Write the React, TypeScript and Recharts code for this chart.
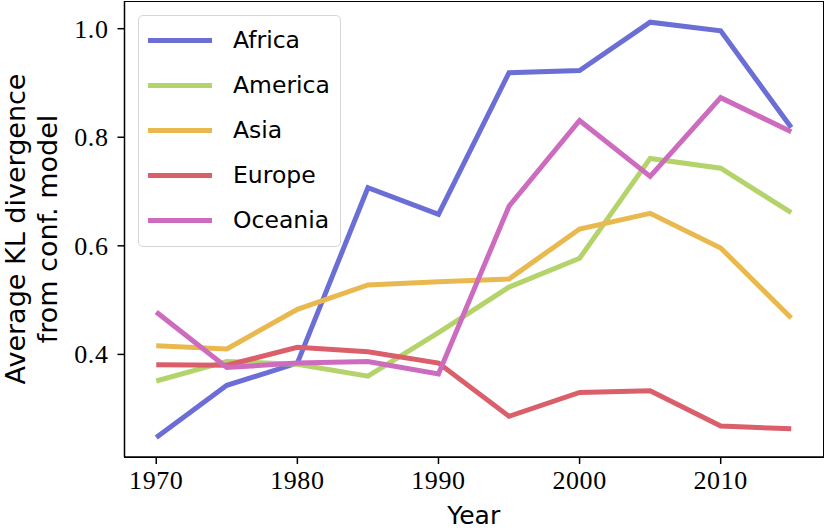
import { LineChart, Line, XAxis, YAxis } from 'recharts'

const years = [1970, 1975, 1980, 1985, 1990, 1995, 2000, 2005, 2010, 2015]
const africa = [0.247, 0.343, 0.384, 0.707, 0.658, 0.919, 0.923, 1.012, 0.996, 0.818]
const america = [0.351, 0.387, 0.382, 0.36, 0.44, 0.524, 0.577, 0.761, 0.743, 0.661]
const asia = [0.416, 0.41, 0.483, 0.528, 0.534, 0.539, 0.631, 0.66, 0.596, 0.467]
const europe = [0.381, 0.38, 0.413, 0.405, 0.384, 0.286, 0.33, 0.333, 0.268, 0.263]
const oceania = [0.478, 0.376, 0.384, 0.387, 0.364, 0.673, 0.831, 0.728, 0.873, 0.81]
const xTicks = [1970, 1980, 1990, 2000, 2010]
const yTicks = [0.4, 0.6, 0.8, 1.0]

const SERIES = [
  { key: 'Africa', color: '#6b6fd5', values: africa },
  { key: 'America', color: '#b5d36b', values: america },
  { key: 'Asia', color: '#e9b94f', values: asia },
  { key: 'Europe', color: '#da5f6a', values: europe },
  { key: 'Oceania', color: '#cd6cbf', values: oceania },
]

const data = years.map((year, i) => {
  const row: Record<string, number> = { year }
  SERIES.forEach(s => { row[s.key] = s.values[i] })
  return row
})

const SERIF = 'Liberation Serif, Times New Roman, DejaVu Serif, serif'
const SANS = 'DejaVu Sans, sans-serif'

function XTick({ x, y, payload }: any) {
  return (
    <text x={x} y={y + 25} textAnchor="middle" style={{ fontFamily: SERIF, fontSize: 26, letterSpacing: 0.6 }} fill="#000">
      {payload.value}
    </text>
  )
}

function YTick({ x, y, payload }: any) {
  return (
    <text x={x} y={y + 9} textAnchor="end" style={{ fontFamily: SERIF, fontSize: 26, letterSpacing: 0.6 }} fill="#000">
      {Number(payload.value).toFixed(1)}
    </text>
  )
}

function Box() {
  return (
    <div style={{ position: 'absolute', left: 138, top: 15, width: 201, height: 230, border: '1.5px solid #d6d6d6', borderRadius: 5, background: 'rgba(255,255,255,0.8)' }}>
      {SERIES.map((s, i) => (
        <div key={s.key} style={{ position: 'absolute', left: 9, top: 10 + i * 45, display: 'flex', alignItems: 'center', height: 28 }}>
          <div style={{ width: 64, height: 5, background: s.color }} />
          <span style={{ marginLeft: 21, fontFamily: SANS, fontSize: 23.5, color: '#000', whiteSpace: 'nowrap' }}>{s.key}</span>
        </div>
      ))}
    </div>
  )
}

function YLabel({ viewBox }: any) {
  const cy = viewBox.y + viewBox.height / 2
  return (
    <g transform={`translate(0, ${cy}) rotate(-90)`} style={{ fontFamily: SANS, fontSize: 27 }} fill="#000">
      <text x={0} y={25} textAnchor="middle">Average KL divergence</text>
      <text x={0} y={57} textAnchor="middle">from conf. model</text>
    </g>
  )
}

function XLabel({ viewBox }: any) {
  return (
    <text x={viewBox.x + viewBox.width / 2} y={524} textAnchor="middle" style={{ fontFamily: SANS, fontSize: 25 }} fill="#000">Year</text>
  )
}

export default function App() {
  return (
    <div style={{ position: 'absolute', left: 0, top: 0, width: 826, height: 529, background: '#fff' }}>
      <LineChart width={826} height={529} data={data} margin={{ top: 1, right: 3, bottom: 0, left: 0 }}>
        <XAxis dataKey="year" type="number" domain={[1967.75, 2017.25]} ticks={xTicks} allowDataOverflow
          height={72} tickSize={7} tickMargin={0} stroke="#000" strokeWidth={1.5} tick={<XTick />}
          label={<XLabel />} />
        <YAxis type="number" domain={[0.211, 1.051]} ticks={yTicks} allowDataOverflow width={124.5}
          tickSize={7} tickMargin={9} stroke="#000" strokeWidth={1.5} tick={<YTick />}
          label={<YLabel />} />
        {SERIES.map(s => (
          <Line key={s.key} dataKey={s.key} stroke={s.color} strokeWidth={5} dot={false}
            isAnimationActive={false} strokeLinejoin="miter" />
        ))}
      </LineChart>
      <div style={{ position: 'absolute', left: 124, top: 0.5, width: 698, height: 455, border: '1.5px solid #000', pointerEvents: 'none' }} />
      <Box />
    </div>
  )
}
